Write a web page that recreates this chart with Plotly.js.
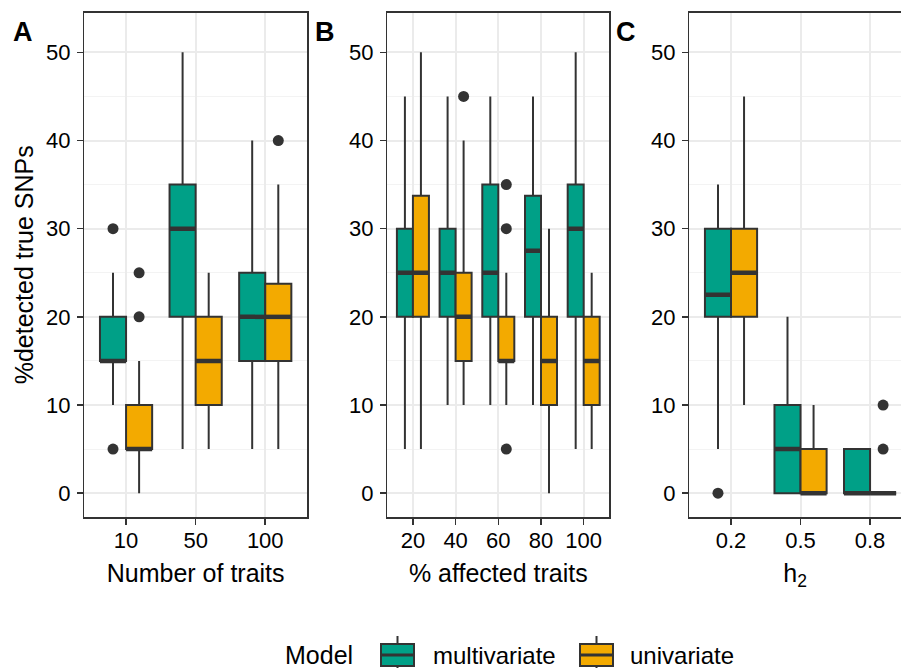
<!DOCTYPE html>
<html>
<head>
<meta charset="utf-8">
<script src="https://cdn.plot.ly/plotly-3.0.1.min.js"></script>
<style>html,body{margin:0;padding:0;background:#fff;}#chart{width:901px;height:668px;}</style>
</head>
<body>
<div id="chart"></div>
<script>
// ---- Data: each box = [lower whisker, Q1, median, Q3, upper whisker] ----
const catsA = ['10', '50', '100'];
const multiA = [[10,15,15,20,25],[5,20,30,35,50],[5,15,20,25,40]];
const uniA   = [[0,5,5,10,15],[5,10,15,20,25],[5,15,20,23.75,35]];
const multiAOut = [[30,5],[],[]];
const uniAOut   = [[20,25],[],[40]];

const catsB = ['20', '40', '60', '80', '100'];
const multiB = [[5,20,25,30,45],[10,20,25,30,45],[10,20,25,35,45],[10,20,27.5,33.75,45],[5,20,30,35,50]];
const uniB   = [[5,20,25,33.75,50],[10,15,20,25,40],[10,15,15,20,25],[0,10,15,20,30],[5,10,15,20,25]];
const multiBOut = [[],[],[],[],[]];
const uniBOut   = [[],[45],[35,30,5],[],[]];

const catsC = ['0.2', '0.5', '0.8'];
const multiC = [[5,20,22.5,30,35],[0,0,5,10,20],[0,0,0,5,5]];
const uniC   = [[10,20,25,30,45],[0,0,0,5,10],[0,0,0,0,0]];
const multiCOut = [[0],[],[]];
const uniCOut   = [[],[],[5,10]];

const models = ['multivariate', 'univariate'];
const colors = {multivariate: '#00A087', univariate: '#F3AA00'};

// ---- Styling ----
const FONT = 'Liberation Sans, Arial, Helvetica, sans-serif';
const INK = '#333333';
const HALF = 0.1875;   // half of a dodged box width
const OFFS = {multivariate: -HALF, univariate: HALF};

const traces = [];
function addPanel(cats, stats, outs, model, xa, ya) {
  const xs = cats.map((c, i) => i + OFFS[model]);
  traces.push({
    type: 'box', name: model, legendgroup: model, showlegend: false,
    x: xs,
    lowerfence: stats.map(s => s[0]), q1: stats.map(s => s[1]),
    median: stats.map(s => s[2]), q3: stats.map(s => s[3]),
    upperfence: stats.map(s => s[4]),
    width: 2 * HALF, whiskerwidth: 0, boxpoints: false,
    fillcolor: colors[model], line: {color: INK, width: 2},
    xaxis: xa, yaxis: ya, hoverinfo: 'skip'
  });
  const mx = [], my = [];
  stats.forEach((s, i) => { mx.push(xs[i] - HALF, xs[i] + HALF, null); my.push(s[2], s[2], null); });
  traces.push({type: 'scatter', mode: 'lines', x: mx, y: my, line: {color: INK, width: 4.5},
    showlegend: false, xaxis: xa, yaxis: ya, hoverinfo: 'skip'});
  const ox = [], oy = [];
  outs.forEach((arr, i) => arr.forEach(v => { ox.push(xs[i]); oy.push(v); }));
  traces.push({type: 'scatter', mode: 'markers', x: ox, y: oy, marker: {color: INK, size: 11},
    showlegend: false, xaxis: xa, yaxis: ya, hoverinfo: 'skip'});
}
addPanel(catsA, multiA, multiAOut, 'multivariate', 'x', 'y');
addPanel(catsA, uniA, uniAOut, 'univariate', 'x', 'y');
addPanel(catsB, multiB, multiBOut, 'multivariate', 'x2', 'y2');
addPanel(catsB, uniB, uniBOut, 'univariate', 'x2', 'y2');
addPanel(catsC, multiC, multiCOut, 'multivariate', 'x3', 'y3');
addPanel(catsC, uniC, uniCOut, 'univariate', 'x3', 'y3');

const W = 901, H = 668;
const px = v => v / W, py = v => 1 - v / H;
const yDom = [py(517), py(12.7)];
const yRange = [-2.7, 54.5];
const tickFont = {family: FONT, size: 22, color: '#000'};
const titleFont = {family: FONT, size: 25, color: '#000'};

function xAxis(dom, cats, title) {
  return {
    domain: dom, range: [-0.6, cats.length - 0.4],
    tickmode: 'array', tickvals: cats.map((c, i) => i), ticktext: cats,
    ticks: 'outside', ticklen: 6, tickwidth: 1.5, tickcolor: INK,
    showline: true, linecolor: INK, linewidth: 1.5, mirror: true,
    showgrid: true, gridcolor: '#EBEBEB', gridwidth: 2, zeroline: false,
    tickfont: tickFont, ticklabelstandoff: -3, automargin: false,
    title: {text: title, font: titleFont, standoff: 12},
    fixedrange: true
  };
}
function yAxis(anchor, title, mirror) {
  const ax = {
    domain: yDom, range: yRange, anchor: anchor,
    tickmode: 'linear', tick0: 0, dtick: 10,
    ticks: 'outside', ticklen: 6, tickwidth: 1.5, tickcolor: INK,
    showline: true, linecolor: INK, linewidth: 1.5, mirror: mirror,
    showgrid: true, gridcolor: '#EBEBEB', gridwidth: 2, zeroline: false,
    minor: {dtick: 5, tick0: 0, showgrid: true, gridcolor: '#F3F3F3', gridwidth: 1, ticks: ''},
    tickfont: tickFont, ticklabelstandoff: 2, automargin: false,
    fixedrange: true
  };
  if (title) ax.title = {text: title, font: titleFont, standoff: 5};
  return ax;
}

const xA = xAxis([px(84.3), px(307)], catsA, 'Number of traits');
const xB = xAxis([px(387.3), px(609.3)], catsB, '% affected traits');
const xC = xAxis([px(689.3), 1], catsC, 'h<sub>2</sub>');
xC.range = [-0.6, 2.445];
xA.anchor = 'y'; xB.anchor = 'y2'; xC.anchor = 'y3';

// ---- Legend (drawn as keys + labels, ggplot style) ----
const legendFont = {family: FONT, size: 24, color: '#000'};
const legendKeys = [
  {model: 'multivariate', x0: 381, x1: 414, tx: 431},
  {model: 'univariate', x0: 580, x1: 613, tx: 628}
];
const shapes = [];
const annotations = [
  {text: '<b>A</b>', x: px(11), y: py(32), xref: 'paper', yref: 'paper', xanchor: 'left', yanchor: 'middle', showarrow: false, font: {family: FONT, size: 27, color: '#000'}},
  {text: '<b>B</b>', x: px(313), y: py(32), xref: 'paper', yref: 'paper', xanchor: 'left', yanchor: 'middle', showarrow: false, font: {family: FONT, size: 27, color: '#000'}},
  {text: '<b>C</b>', x: px(614), y: py(32), xref: 'paper', yref: 'paper', xanchor: 'left', yanchor: 'middle', showarrow: false, font: {family: FONT, size: 27, color: '#000'}},
  {text: 'Model', x: px(283), y: py(655), xref: 'paper', yref: 'paper', xanchor: 'left', yanchor: 'middle', showarrow: false, font: {family: FONT, size: 25, color: '#000'}}
];
legendKeys.forEach(k => {
  const cx = (k.x0 + k.x1) / 2;
  shapes.push({type: 'line', xref: 'paper', yref: 'paper', x0: px(cx), x1: px(cx), y0: py(636), y1: py(670), line: {color: INK, width: 2}});
  shapes.push({type: 'rect', xref: 'paper', yref: 'paper', x0: px(k.x0), x1: px(k.x1), y0: py(644), y1: py(666), fillcolor: colors[k.model], line: {color: INK, width: 2}});
  shapes.push({type: 'line', xref: 'paper', yref: 'paper', x0: px(k.x0), x1: px(k.x1), y0: py(655), y1: py(655), line: {color: INK, width: 3}});
  annotations.push({text: k.model, x: px(k.tx), y: py(655), xref: 'paper', yref: 'paper', xanchor: 'left', yanchor: 'middle', showarrow: false, font: legendFont});
});

const layout = {
  width: W, height: H,
  margin: {l: 0, r: 0, t: 0, b: 0, autoexpand: false},
  paper_bgcolor: '#fff', plot_bgcolor: '#fff',
  font: {family: FONT, color: '#000'},
  xaxis: xA, xaxis2: xB, xaxis3: xC,
  yaxis: yAxis('x', '%detected true SNPs', true),
  yaxis2: yAxis('x2', null, true),
  yaxis3: yAxis('x3', null, false),
  showlegend: false,
  shapes: shapes,
  annotations: annotations
};

Plotly.newPlot('chart', traces, layout, {staticPlot: true, displayModeBar: false});
</script>
</body>
</html>
